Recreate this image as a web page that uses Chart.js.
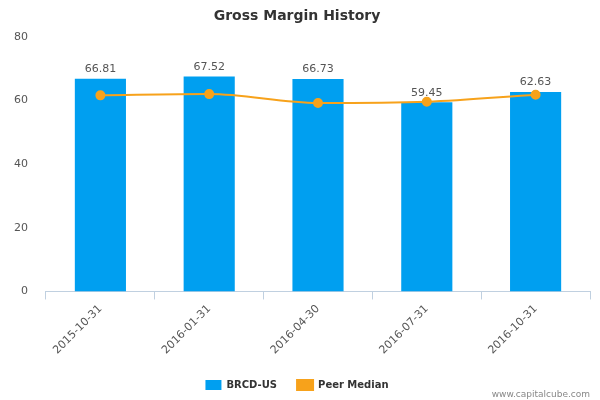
<!DOCTYPE html>
<html><head><meta charset="utf-8">
<script src="https://cdn.jsdelivr.net/npm/chart.js@4"></script>
<style>html,body{margin:0;padding:0;background:#fff}#w{position:relative;width:600px;height:400px}</style>
</head><body><div id="w"><canvas id="c" width="600" height="400"></canvas></div>
<script>
const categories=["2015-10-31","2016-01-31","2016-04-30","2016-07-31","2016-10-31"];
const brcd=[66.81,67.52,66.73,59.45,62.63];
const peer=[61.6,62.0,59.2,59.6,61.8];
const yTicks=[0,20,40,60,80];
const labelPlugin={id:'lbl',afterDatasetsDraw(ch){const c=ch.ctx;const m=ch.getDatasetMeta(1);c.save();c.font='11px "DejaVu Sans", Arial';c.fillStyle='#555';c.textAlign='center';c.textBaseline='bottom';m.data.forEach((b,i)=>{c.fillText(brcd[i].toFixed(2),b.x,b.y-4);});c.restore();}};
const footPlugin={id:'foot',afterDraw(ch){const c=ch.ctx;c.save();c.font='9px "DejaVu Sans", Arial';c.fillStyle='#888';c.textAlign='right';c.fillText('www.capitalcube.com',590,395);c.restore();}};
new Chart(document.getElementById('c'),{
data:{labels:categories,datasets:[
{type:'line',label:'Peer Median',data:peer,borderColor:'#f7a21b',backgroundColor:'#f7a21b',borderWidth:2,pointRadius:4,pointStyle:'circle',tension:0.4,cubicInterpolationMode:'monotone',order:0},
{type:'bar',label:'BRCD-US',data:brcd,backgroundColor:'#009ff0',barPercentage:0.47,categoryPercentage:1,order:1}]},
options:{responsive:false,animation:false,
layout:{padding:{left:4,right:10,top:0,bottom:0}},
plugins:{title:{display:true,text:'Gross Margin History',font:{family:'"DejaVu Sans", Arial',size:14,weight:'bold'},color:'#333',padding:{top:8,bottom:12}},
legend:{position:'bottom',reverse:true,labels:{font:{family:'"DejaVu Sans", Arial',size:10,weight:'bold'},color:'#333',boxWidth:16,boxHeight:10,padding:20}},tooltip:{enabled:false}},
scales:{y:{min:0,max:80,afterBuildTicks(a){a.ticks=yTicks.map(v=>({value:v}));},grid:{display:false},border:{display:false},ticks:{color:'#555',font:{family:'"DejaVu Sans", Arial',size:11},padding:10}},
x:{grid:{display:true,drawOnChartArea:false,offset:true,color:'#c0d0e0',tickLength:8},border:{color:'#c0d0e0'},ticks:{color:'#555',font:{family:'"DejaVu Sans", Arial',size:11},maxRotation:45,minRotation:45}}}},
plugins:[labelPlugin,footPlugin]});
</script></body></html>
